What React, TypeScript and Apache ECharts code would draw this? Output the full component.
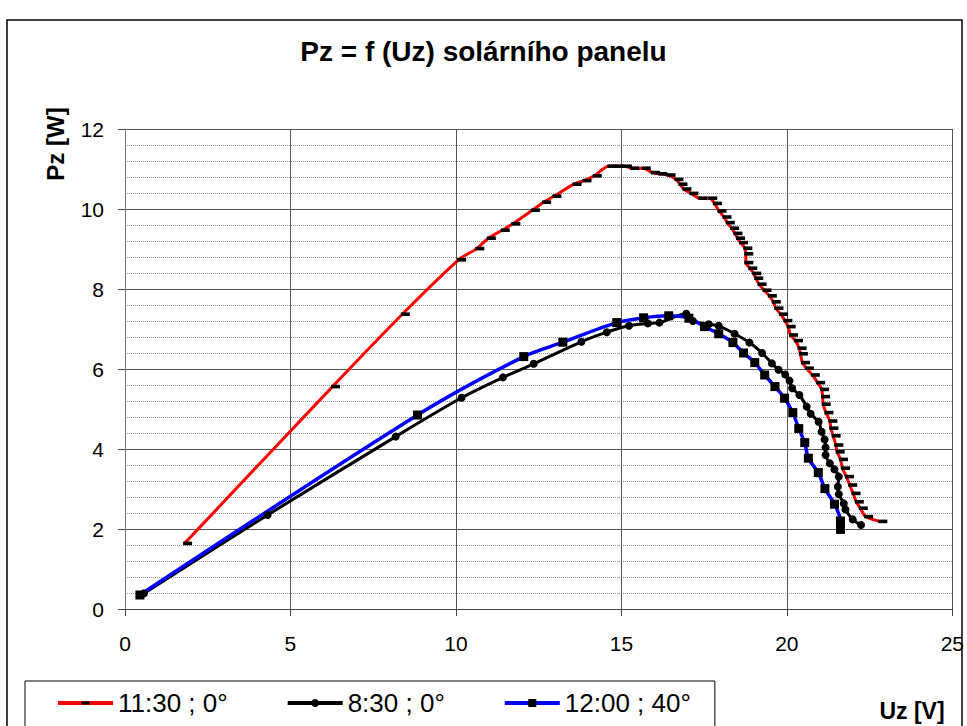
import React, { useEffect, useRef } from "react";
import * as echarts from "echarts";

// ---- data ----
const seriesNames = ["11:30 ; 0°", "8:30 ; 0°", "12:00 ; 40°"];

// 11:30 ; 0°  (Uz [V], Pz [W])
const uz1130 = [1.8, 6.27, 8.38, 10.08, 10.63, 10.98, 11.4, 11.72, 12.31, 12.65, 12.96, 13.57, 13.87, 14.18, 14.62, 14.85, 15.09, 15.31, 15.66, 15.94, 16.16, 16.41, 16.65, 16.77, 16.89, 17.1, 17.37, 17.67, 17.81, 17.95, 18.1, 18.2, 18.33, 18.43, 18.51, 18.6, 18.73, 18.76, 18.76, 18.88, 19.0, 19.06, 19.16, 19.31, 19.47, 19.59, 19.67, 19.81, 19.94, 20.04, 20.11, 20.26, 20.37, 20.41, 20.47, 20.59, 20.77, 20.93, 21.05, 21.08, 21.1, 21.18, 21.3, 21.33, 21.4, 21.48, 21.52, 21.62, 21.68, 21.8, 21.9, 22.0, 22.1, 22.22, 22.38, 22.81];
const pz1130 = [1.64, 5.56, 7.37, 8.73, 9.01, 9.27, 9.47, 9.63, 9.97, 10.17, 10.32, 10.62, 10.71, 10.83, 11.07, 11.07, 11.07, 11.02, 11.02, 10.91, 10.88, 10.85, 10.74, 10.62, 10.5, 10.39, 10.27, 10.27, 10.14, 9.95, 9.8, 9.66, 9.52, 9.39, 9.27, 9.16, 9.02, 8.88, 8.66, 8.52, 8.39, 8.27, 8.12, 7.97, 7.83, 7.68, 7.52, 7.37, 7.21, 7.06, 6.85, 6.71, 6.52, 6.38, 6.16, 6.02, 5.85, 5.66, 5.49, 5.31, 5.12, 4.91, 4.7, 4.52, 4.33, 4.1, 3.93, 3.74, 3.52, 3.31, 3.1, 2.89, 2.68, 2.52, 2.31, 2.19];

// 8:30 ; 0°
const uz0830 = [0.57, 4.31, 8.18, 10.17, 11.42, 12.35, 13.79, 14.56, 15.23, 15.8, 16.15, 16.96, 17.16, 17.64, 17.94, 18.42, 18.87, 19.25, 19.55, 19.75, 19.95, 20.08, 20.16, 20.38, 20.6, 20.72, 20.96, 21.05, 21.14, 21.17, 21.17, 21.3, 21.44, 21.57, 21.54, 21.57, 21.72, 21.77, 21.99, 22.24];
const pz0830 = [0.39, 2.35, 4.31, 5.28, 5.79, 6.13, 6.68, 6.92, 7.08, 7.14, 7.16, 7.38, 7.2, 7.12, 7.08, 6.88, 6.66, 6.4, 6.14, 5.98, 5.86, 5.71, 5.52, 5.35, 5.06, 4.88, 4.68, 4.43, 4.24, 4.04, 3.85, 3.64, 3.49, 3.31, 3.06, 2.87, 2.64, 2.49, 2.24, 2.1];

// 12:00 ; 40°
const uz1200 = [0.45, 8.84, 12.05, 13.23, 14.86, 15.67, 16.43, 17.04, 17.51, 17.94, 18.37, 18.69, 19.03, 19.33, 19.64, 19.93, 20.18, 20.36, 20.54, 20.65, 20.95, 21.15, 21.44, 21.62, 21.62];
const pz1200 = [0.35, 4.85, 6.31, 6.67, 7.16, 7.28, 7.33, 7.27, 7.06, 6.88, 6.66, 6.4, 6.16, 5.85, 5.56, 5.27, 4.91, 4.51, 4.16, 3.77, 3.41, 3.01, 2.62, 2.2, 1.99];

const xTicks = { min: 0, max: 25, interval: 5 };
const yTicks = { min: 0, max: 12, interval: 2 };

const titleText = "Pz = f (Uz) solárního panelu";
const yName = "Pz [W]";
const xName = "Uz [V]";

const pairs = (u: number[], p: number[]) => u.map((v, i) => [v, p[i]]);

const FONT = "'Liberation Sans', Arial, sans-serif";

export default function App() {
  const ref = useRef<HTMLDivElement>(null);
  useEffect(() => {
    if (!ref.current) return;
    const chart = echarts.init(ref.current, null, { renderer: "svg" });
    const dash = "path://M0,0M10,10M0,3H10V7H0Z";
    const option: any = {
      animation: false,
      backgroundColor: "#ffffff",
      title: {
        text: titleText,
        left: "center",
        top: 32,
        textStyle: { fontFamily: FONT, fontWeight: "bold", fontSize: 28, color: "#000" },
      },
      grid: { left: 125, top: 129, right: 14, bottom: 117 },
      legend: {
        data: seriesNames,
        left: 25,
        top: 681,
        orient: "horizontal",
        itemWidth: 55,
        itemHeight: 10,
        itemGap: 58,
        padding: [9, 24, 40, 31],
        borderColor: "#000",
        borderWidth: 1,
        backgroundColor: "#fff",
        lineStyle: { width: 4 },
        textStyle: { fontFamily: FONT, fontSize: 26, color: "#000" },
      },
      xAxis: {
        type: "value",
        min: xTicks.min,
        max: xTicks.max,
        interval: xTicks.interval,
        axisLine: { show: true, onZero: false, lineStyle: { color: "#444", width: 1 } },
        axisTick: { show: true, length: 7, lineStyle: { color: "#444" } },
        axisLabel: { fontFamily: FONT, fontSize: 21, color: "#000", margin: 24 },
        splitLine: { show: true, lineStyle: { color: "#555", width: 1 } },
      },
      yAxis: {
        type: "value",
        min: yTicks.min,
        max: yTicks.max,
        interval: yTicks.interval,
        axisLine: { show: true, lineStyle: { color: "#777", width: 1 } },
        axisTick: { show: true, length: 7, lineStyle: { color: "#444" } },
        axisLabel: { fontFamily: FONT, fontSize: 21, color: "#000", margin: 21 },
        splitLine: { show: true, lineStyle: { color: "#555", width: 1 } },
        minorTick: { show: false, splitNumber: 5 },
        minorSplitLine: { show: true, lineStyle: { color: "#999", width: 1, type: "dotted" } },
      },
      series: [
        {
          name: seriesNames[0],
          type: "line",
          data: pairs(uz1130, pz1130),
          smooth: 0.3,
          symbol: dash,
          symbolSize: 9,
          symbolOffset: [3, 0],
          showAllSymbol: true,
          lineStyle: { color: "#ff0000", width: 3 },
          itemStyle: { color: "#000" },
          z: 3,
        },
        {
          name: seriesNames[1],
          type: "line",
          data: pairs(uz0830, pz0830),
          smooth: 0.3,
          symbol: "circle",
          symbolSize: 8,
          showAllSymbol: true,
          lineStyle: { color: "#000", width: 3 },
          itemStyle: { color: "#000" },
          z: 3,
        },
        {
          name: seriesNames[2],
          type: "line",
          data: pairs(uz1200, pz1200),
          smooth: 0.3,
          symbol: "rect",
          symbolSize: 9,
          showAllSymbol: true,
          lineStyle: { color: "#0000ff", width: 3.5 },
          itemStyle: { color: "#000" },
          z: 3,
        },
      ],
      graphic: [
        {
          type: "rect",
          shape: { x: 7, y: 20, width: 955, height: 730 },
          style: { fill: "none", stroke: "#000", lineWidth: 1.5 },
          silent: true,
          z: 100,
        },
        {
          type: "text",
          x: 55,
          y: 144,
          rotation: Math.PI / 2,
          style: {
            text: yName,
            fontFamily: FONT,
            fontWeight: "bold",
            fontSize: 24,
            fill: "#000",
            align: "center",
            verticalAlign: "middle",
          },
        },
        {
          type: "text",
          x: 912,
          y: 711,
          style: {
            text: xName,
            fontFamily: FONT,
            fontWeight: "bold",
            fontSize: 23,
            fill: "#000",
            align: "center",
            verticalAlign: "middle",
          },
        },
      ],
    };
    chart.setOption(option);
    return () => chart.dispose();
  }, []);
  return (
    <div
      ref={ref}
      style={{ position: "absolute", left: 0, top: 0, width: 967, height: 726 }}
    />
  );
}
